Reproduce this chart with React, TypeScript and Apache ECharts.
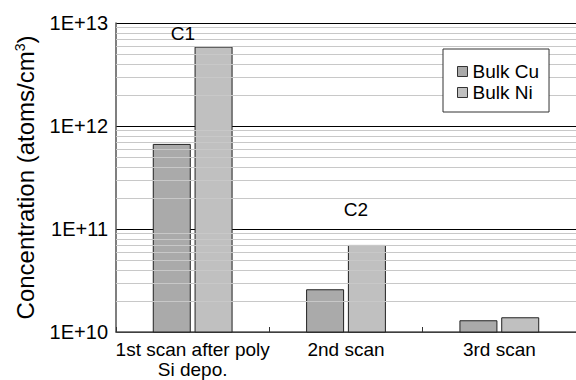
import React, { useEffect, useRef } from "react";
import * as echarts from "echarts";

const categories = ["1st scan after poly\nSi depo.", "2nd scan", "3rd scan"];
const seriesNames = ["Bulk Cu", "Bulk Ni"];
const bulkCu = [6.7e11, 2.6e10, 1.3e10];
const bulkNi = [5.9e12, 7.0e10, 1.39e10];
const yMin = 1e10;
const yMax = 1e13;
const annotations = ["C1", "C2"];

const minorValues: number[] = [];
for (let e = 10; e < 13; e++) {
  for (let k = 2; k <= 9; k++) minorValues.push(k * Math.pow(10, e));
}

const FONT = "Liberation Sans, Arial, sans-serif";

export default function App() {
  const ref = useRef<HTMLDivElement>(null);
  useEffect(() => {
    const chart = echarts.init(ref.current!, undefined, { renderer: "svg" });
    chart.setOption({
      animation: false,
      backgroundColor: "#fff",
      textStyle: { fontFamily: FONT, color: "#000" },
      grid: { left: 116, right: 0, top: 23, bottom: 48, outerBoundsMode: "none", containLabel: false },
      legend: {
        orient: "vertical",
        left: 443,
        top: 49,
        z: 20,
        data: seriesNames,
        backgroundColor: "#fff",
        borderColor: "#333",
        borderWidth: 1,
        padding: [13, 10, 10, 14],
        itemWidth: 10,
        itemHeight: 10,
        itemGap: 2,
        icon: "rect",
        itemStyle: { borderColor: "#333", borderWidth: 1 },
        textStyle: { fontSize: 19, color: "#000", fontFamily: FONT, padding: [0, 0, 0, 0] },
      },
      xAxis: {
        type: "category",
        data: categories,
        axisLine: { lineStyle: { color: "#555", width: 1.5 } },
        axisTick: { show: true, inside: true, length: 5, lineStyle: { color: "#333" } },
        axisLabel: { interval: 0, fontSize: 19, lineHeight: 20, color: "#000", margin: 7, fontFamily: FONT },
      },
      yAxis: {
        type: "log",
        logBase: 10,
        min: yMin,
        max: yMax,
        axisLine: { show: true, lineStyle: { color: "#555", width: 1.5 } },
        axisTick: { show: false },
        axisLabel: {
          fontSize: 20,
          color: "#000",
          margin: 8,
          fontFamily: FONT,
          formatter: (v: number) => "1E+" + Math.round(Math.log10(v)),
        },
        splitLine: { show: true, lineStyle: { color: "#000", width: 1 } },
        name: "Concentration (atoms/cm{sup|3})",
        nameLocation: "middle",
        nameGap: 79,
        nameTextStyle: {
          fontSize: 24,
          color: "#000",
          fontFamily: FONT,
          rich: { sup: { fontSize: 14, verticalAlign: "top", padding: [0, 0, 10, 0], fontFamily: FONT } },
        },
      },
      series: [
        {
          type: "line",
          data: [],
          z: 0,
          silent: true,
          markLine: {
            silent: true,
            symbol: "none",
            label: { show: false },
            lineStyle: { color: "#c8c8c8", width: 1, type: "solid" },
            data: minorValues.map((v) => ({ yAxis: v })),
          },
        },
        {
          name: seriesNames[0],
          type: "bar",
          data: bulkCu,
          barWidth: 38,
          barGap: "10%",
          z: 3,
          itemStyle: { color: "#aaaaaa", borderColor: "#222", borderWidth: 1 },
        },
        {
          name: seriesNames[1],
          type: "bar",
          data: bulkNi,
          barWidth: 38,
          barGap: "10%",
          z: 3,
          itemStyle: { color: "#c0c0c0", borderColor: "#222", borderWidth: 1 },
        },
      ],
      graphic: [
        {
          type: "text",
          x: 183,
          y: 33,
          z: 30,
          style: { text: annotations[0], font: "19px " + FONT, fill: "#000", align: "center", verticalAlign: "middle" },
        },
        {
          type: "text",
          x: 356,
          y: 209,
          z: 30,
          style: { text: annotations[1], font: "19px " + FONT, fill: "#000", align: "center", verticalAlign: "middle" },
        },
      ],
    });
    return () => chart.dispose();
  }, []);
  return <div ref={ref} style={{ position: "fixed", left: 0, top: 0, width: 576, height: 380 }} />;
}
